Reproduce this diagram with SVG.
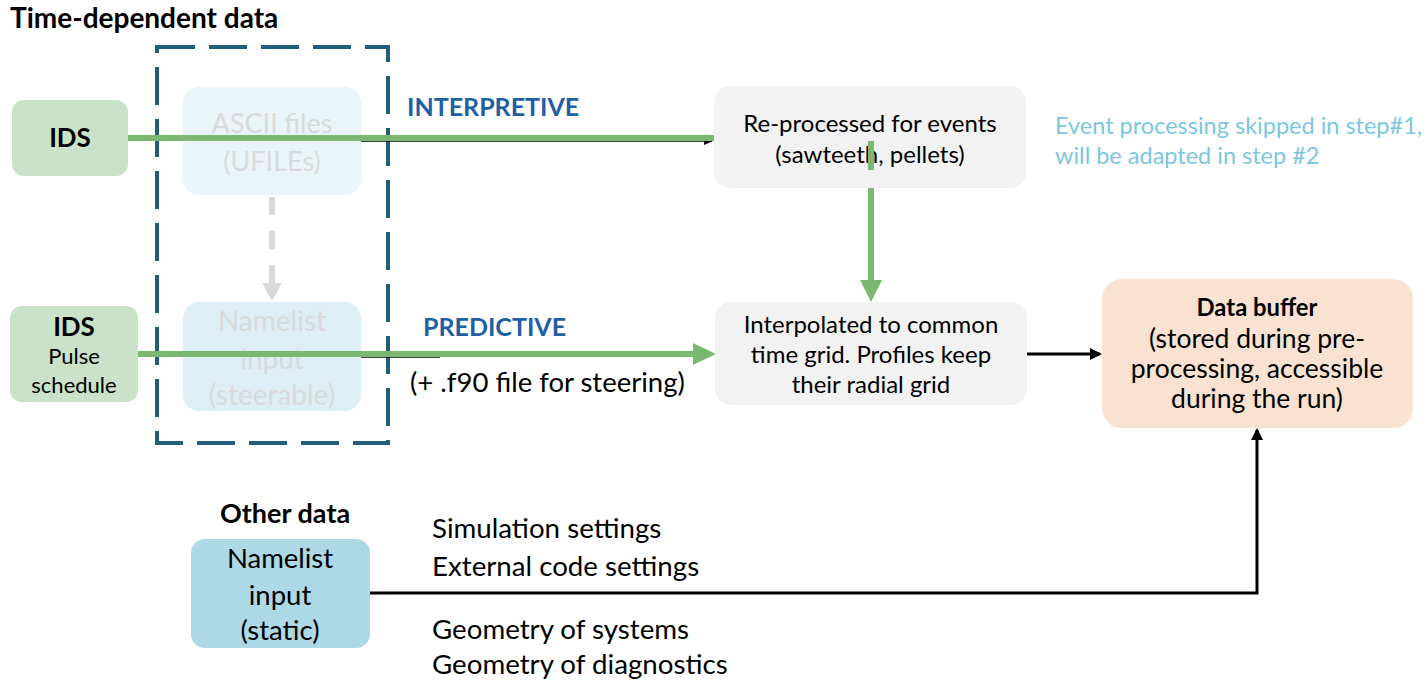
<svg xmlns="http://www.w3.org/2000/svg" width="1424" height="680" viewBox="0 0 1424 680">
<defs>
<style>
text{font-family:Lato,"Liberation Sans",sans-serif;fill:#000}
.b{font-weight:bold}
.t{font-size:27.7px}
.s{font-size:24px}
.c{text-anchor:middle}
.faint{fill:#DADADA}
.green{stroke:#7BB872;stroke-width:6;fill:none}
.blk{stroke:#000;stroke-width:3;fill:none}
.lbl{fill:#1F5FA5;font-weight:bold;font-size:25px}
.ev{fill:#7CC7DF;font-size:23.5px}
</style>
<marker id="ah" markerWidth="12" markerHeight="12" refX="10" refY="6" orient="auto" markerUnits="userSpaceOnUse"><path d="M0,0 L12,6 L0,12 Z" fill="#000"/></marker>
<marker id="ahs" markerWidth="10" markerHeight="8" refX="8" refY="4" orient="auto" markerUnits="userSpaceOnUse"><path d="M0,0 L9,4 L0,8 Z" fill="#000"/></marker>
</defs>
<rect width="1424" height="680" fill="#fff"/>
<text class="b" x="10" y="28" font-size="28">Time-dependent data</text>
<text class="b" x="220" y="523" font-size="27">Other data</text>

<g id="dashbox"><rect x="157" y="47" width="231" height="396" fill="none" stroke="#215E79" stroke-width="4" stroke-dasharray="38,14"/></g>

<g id="ascii"><rect x="183" y="87" width="178" height="108" rx="16" fill="#E9F5F8"/>
<text class="c faint" x="272" y="133" font-size="27">ASCII files</text><text class="c faint" x="272" y="171" font-size="27">(UFILEs)</text></g>
<g id="namelist-steer"><rect x="183" y="302" width="178" height="109" rx="16" fill="#DDEFF5"/>
<text class="c faint" x="272" y="331" font-size="28">Namelist</text><text class="c faint" x="272" y="369" font-size="28">input</text><text class="c faint" x="272" y="405" font-size="28">(steerable)</text></g>

<g id="connectors">
<line x1="272" y1="197" x2="272" y2="285" stroke="#DADADA" stroke-width="6" stroke-dasharray="18,16"/>
<path d="M262,283 L282,283 L272,301 Z" fill="#DADADA"/>
<line x1="361" y1="141" x2="712" y2="141" stroke="#000" stroke-width="1.5" marker-end="url(#ahs)"/>
<line x1="361" y1="357" x2="440" y2="357" stroke="#000" stroke-width="1.5"/>
<path class="green" d="M128,138 H871 V282"/>
<path d="M860,280 L882,280 L871,302 Z" fill="#7BB872"/>
<path class="green" d="M138,354 H696"/>
<path d="M693,343 L716,354 L693,365 Z" fill="#7BB872"/>
<line class="blk" x1="1027" y1="354" x2="1100" y2="354" marker-end="url(#ah)"/>
<path class="blk" d="M370,593 H1257 V430" marker-end="url(#ah)"/>
</g>

<g id="ids1"><rect x="12" y="100" width="116" height="76" rx="12" fill="#C9E2C8"/>
<text class="b c" x="70" y="147" font-size="26">IDS</text></g>
<g id="ids2"><rect x="10" y="306" width="128" height="96" rx="12" fill="#C9E2C8"/>
<text class="b c" x="74" y="336" font-size="26">IDS</text>
<text class="c" x="74" y="364" font-size="22">Pulse</text>
<text class="c" x="74" y="393" font-size="22">schedule</text></g>

<text class="lbl" x="407" y="116">INTERPRETIVE</text>
<text class="lbl" x="423" y="336">PREDICTIVE</text>
<text x="410" y="392" font-size="27.5">(+ .f90 file for steering)</text>

<g id="reproc"><rect x="714" y="86" width="312" height="102" rx="16" fill="#F2F2F2"/>
<text class="s c" x="870" y="132">Re-processed for events</text>
<text class="s c" x="870" y="163">(sawteeth, pellets)</text></g>
<path class="green" d="M871,141 V170"/>

<g id="interp"><rect x="715" y="302" width="312" height="103" rx="16" fill="#F2F2F2"/>
<text class="s c" x="871" y="333">Interpolated to common</text>
<text class="s c" x="871" y="363">time grid. Profiles keep</text>
<text class="s c" x="871" y="393">their radial grid</text></g>

<text class="ev" x="1055" y="134">Event processing skipped in step#1,</text>
<text class="ev" x="1055" y="164">will be adapted in step #2</text>

<g id="buffer"><rect x="1102" y="279" width="311" height="149" rx="20" fill="#F9E2D1"/>
<text class="b c" x="1257" y="316" font-size="23.8">Data buffer</text>
<text class="c" x="1257" y="348" font-size="26.5">(stored during pre-</text>
<text class="c" x="1257" y="378" font-size="26.5">processing, accessible</text>
<text class="c" x="1257" y="408" font-size="26.5">during the run)</text></g>

<g id="static"><rect x="191" y="539" width="179" height="109" rx="14" fill="#ADD9E7"/>
<text class="c" x="280" y="568" font-size="27.5">Namelist</text>
<text class="c" x="280" y="605" font-size="27.5">input</text>
<text class="c" x="280" y="640" font-size="27.5">(static)</text></g>

<text class="t" x="432" y="538">Simulation settings</text>
<text class="t" x="432" y="576">External code settings</text>
<text class="t" x="432" y="639">Geometry of systems</text>
<text class="t" x="432" y="674">Geometry of diagnostics</text>
</svg>
